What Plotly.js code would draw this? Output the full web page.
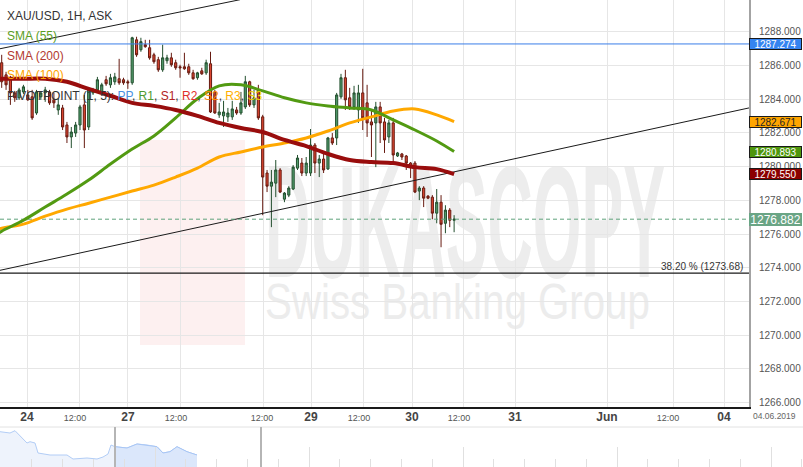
<!DOCTYPE html>
<html><head><meta charset="utf-8">
<script src="https://cdn.plot.ly/plotly-3.0.1.min.js"></script>
<style>html,body{margin:0;padding:0;background:#fff}#chart{width:803px;height:467px}</style>
</head><body><div id="chart"></div>
<script>
// ---------- DATA ----------
const priceOpen = [1286.16,1285.44,1285.27,1284.37,1284.08,1284.43,1284.25,1284.14,1283.18,1284.14,
1284.37,1284.43,1283.96,1283.36,1283.48,1282.47,1281.76,1281.99,1282.47,1283.66,
1282.35,1284.37,1284.55,1284.43,1285.15,1284.85,1285.03,1285.21,1285.15,1285.03,
1284.97,1287.52,1286.93,1287.23,1287.05,1286.63,1286.34,1285.74,1286.28,1286.45,
1286.16,1285.92,1285.92,1285.92,1285.56,1285.27,1285.68,1285.56,1286.10,1284.43,
1283.07,1283.01,1282.95,1282.95,1283.36,1283.18,1283.54,1285.03,1283.66,1284.55,
1282.95,1279.62,1278.84,1279.02,1279.80,1278.07,1278.31,1278.67,1279.91,1280.21,
1279.62,1279.62,1281.28,1280.21,1280.45,1279.86,1281.70,1281.70,1284.14,1285.27,
1284.08,1283.54,1283.36,1284.37,1283.78,1282.65,1282.59,1283.54,1282.65,1281.76,
1282.59,1280.63,1280.75,1280.63,1280.21,1280.21,1278.55,1278.73,1278.25,1278.19,
1277.24,1277.89,1276.64,1277.42,1276.82];
const priceHigh = [1286.63,1285.62,1285.38,1284.49,1284.67,1284.85,1284.55,1284.55,1284.55,1284.43,
1284.73,1284.55,1284.37,1284.02,1283.66,1282.65,1282.35,1282.65,1283.66,1284.25,
1284.67,1284.67,1285.32,1284.97,1285.38,1285.50,1285.56,1286.39,1285.27,1285.15,
1287.70,1287.70,1287.64,1287.52,1287.52,1286.75,1286.51,1287.23,1286.63,1286.75,
1286.34,1286.04,1286.75,1286.10,1285.74,1285.62,1285.86,1286.34,1286.81,1284.55,
1283.78,1283.90,1283.48,1283.90,1283.54,1284.43,1285.38,1285.09,1284.55,1284.85,
1283.07,1279.80,1279.80,1280.39,1279.91,1278.49,1278.84,1280.09,1280.69,1280.51,
1280.57,1282.23,1281.40,1280.69,1280.81,1281.76,1281.99,1284.37,1285.50,1285.74,
1284.67,1284.79,1284.85,1285.80,1284.85,1283.36,1283.84,1283.84,1282.89,1282.77,
1282.89,1280.87,1280.81,1280.69,1280.27,1280.33,1278.84,1278.84,1278.31,1278.31,
1278.67,1278.31,1277.71,1277.54,1277.12];
const priceLow = [1284.67,1284.55,1283.66,1283.84,1283.96,1284.31,1283.90,1282.77,1283.07,1283.96,
1283.84,1283.66,1283.48,1283.07,1282.17,1281.40,1281.10,1281.76,1282.17,1281.10,
1282.17,1284.25,1284.43,1284.25,1284.79,1284.67,1284.85,1284.85,1284.85,1284.61,
1284.85,1286.51,1286.81,1287.05,1286.34,1286.10,1285.62,1285.62,1286.10,1285.92,
1285.74,1285.27,1285.74,1285.44,1285.15,1285.15,1285.44,1285.44,1283.18,1283.13,
1282.89,1282.35,1282.65,1282.77,1283.07,1283.07,1283.42,1283.54,1283.48,1282.77,
1277.12,1278.49,1276.41,1278.19,1278.43,1277.89,1278.19,1278.61,1279.80,1279.44,
1279.44,1279.44,1279.62,1279.38,1279.62,1279.80,1281.28,1281.28,1284.02,1283.36,
1283.36,1283.36,1282.59,1282.17,1281.76,1280.57,1279.97,1281.40,1280.81,1281.40,
1280.21,1280.57,1280.39,1279.80,1279.32,1278.43,1278.01,1277.60,1278.07,1276.88,
1276.64,1275.22,1276.05,1276.41,1276.11];
const priceClose = [1285.03,1284.85,1284.37,1284.08,1284.55,1284.73,1283.96,1282.89,1284.43,1284.37,
1284.55,1283.78,1283.78,1283.66,1282.35,1281.76,1282.05,1282.47,1283.54,1282.17,
1284.55,1284.55,1285.15,1284.85,1284.91,1285.27,1285.32,1284.97,1284.97,1284.97,
1287.64,1286.63,1287.41,1287.11,1286.45,1286.22,1285.74,1286.45,1286.45,1286.04,
1285.86,1285.86,1285.80,1285.56,1285.21,1285.56,1285.50,1286.16,1283.24,1283.18,
1283.24,1283.24,1283.18,1283.42,1283.18,1283.78,1285.03,1283.66,1284.08,1282.89,
1279.38,1278.84,1279.08,1279.80,1278.49,1278.43,1278.73,1279.97,1280.51,1279.62,
1280.21,1281.28,1280.21,1280.45,1279.80,1281.70,1281.40,1284.25,1285.27,1283.96,
1283.54,1284.37,1284.37,1282.89,1282.59,1282.47,1283.54,1282.59,1281.58,1282.59,
1280.69,1280.81,1280.57,1280.21,1279.97,1278.49,1278.73,1278.13,1278.13,1277.24,
1277.89,1276.58,1277.42,1276.82,1276.88];
const candleIndex = priceOpen.map((_, i) => i);

// moving averages read at sampled candle positions
const maIndex = [-1,0,5,10,15,20,25,30,35,40,45,50,55,60,65,70,75,80,85,90,95,100,104];
const sma55  = [1275.99,1276.17,1276.82,1277.60,1278.37,1279.20,1280.15,1281.04,1281.82,1282.89,1284.02,1284.79,1284.85,1284.49,1284.08,1283.78,1283.60,1283.48,1283.36,1282.77,1282.17,1281.52,1280.89];
const sma100 = [1276.29,1276.35,1276.59,1277.06,1277.48,1277.83,1278.19,1278.55,1278.90,1279.38,1279.91,1280.57,1280.87,1281.16,1281.40,1281.70,1282.11,1282.59,1282.95,1283.30,1283.42,1283.07,1282.67];
const sma200 = [1285.21,1285.21,1285.21,1285.21,1285.03,1284.61,1284.20,1283.78,1283.60,1283.36,1283.01,1282.59,1282.29,1282.05,1281.58,1281.22,1280.75,1280.39,1280.27,1280.21,1279.97,1279.85,1279.55];

// drawn trend lines (endpoints) and levels
const trendUpperX = [-0.39, 54.8];
const trendUpperY = [1286.99, 1289.90];
const trendLowerX = [-0.39, 171.79];
const trendLowerY = [1273.85, 1283.48];
const blueLevel = 1287.274;
const fibLevel = 1273.68;
const lastPrice = 1276.882;
const sma100Last = 1282.671, sma55Last = 1280.893, sma200Last = 1279.550;

// axis labels
const xLabelPos  = [5.82,16.85,29.03,40.07,59.84,71.11,82.14,94.32,105.13,118.0,139.15,153.17,166.05];
const xLabelText = ['24','12:00','27','12:00','12:00','29','12:00','30','12:00','31','Jun','12:00','04'];
const xGridPos   = [5.82,17.77,29.03,40.99,60.07,71.11,83.06,94.32,106.05,118.0,139.15,154.32,166.05];
const yTicks = [1266,1268,1270,1272,1274,1276,1278,1280,1282,1284,1286,1288];

// navigator mini series
const navX   = [0,10,15,20,27,30,35,38,50,67,73,87,97,103,108,111,115,127,137,147,157,163,170,177,187,197];
const navVal = [35.3,34,36.3,31,24,25.3,24,14,12,12,8,9,8,10,13,22,20.3,19,23,22,20.3,14,15.3,20.3,15.3,12];
const navSelStart = 16;

// ---------- CHART ----------
const FONT = 'Liberation Sans, Arial, sans-serif';
const W = 803, H = 467;
const px = v => v / W;
const py = v => 1 - v / H;
const isDate = t => t !== '12:00';
const tickText = xLabelText.map(t => isDate(t)
  ? '<span style="font-size:12px;fill:#444"><b>' + t + '</b></span>' : t);

const xr = [-0.39, 171.79];
const traces = [
  {type:'candlestick', x:candleIndex, open:priceOpen, high:priceHigh, low:priceLow, close:priceClose,
   increasing:{line:{color:'#234f2e', width:1}, fillcolor:'#519c6c'},
   decreasing:{line:{color:'#661a10', width:1}, fillcolor:'#dc4631'},
   hoverinfo:'skip', xaxis:'x', yaxis:'y'},
  {type:'scatter', mode:'lines', x:trendUpperX, y:trendUpperY, line:{color:'#1a1a1a', width:1}, hoverinfo:'skip'},
  {type:'scatter', mode:'lines', x:trendLowerX, y:trendLowerY, line:{color:'#1a1a1a', width:1}, hoverinfo:'skip'},
  {type:'scatter', mode:'lines', x:xr, y:[blueLevel, blueLevel], line:{color:'#3a7ee8', width:1}, hoverinfo:'skip'},
  {type:'scatter', mode:'lines', x:xr, y:[fibLevel, fibLevel], line:{color:'#1a1a1a', width:1.2}, hoverinfo:'skip'},
  {type:'scatter', mode:'lines', x:xr, y:[lastPrice, lastPrice], line:{color:'#5fa37b', width:1, dash:'4px,3px'}, hoverinfo:'skip'},
  {type:'scatter', mode:'lines', x:maIndex, y:sma100, line:{color:'#ffa800', width:3, shape:'spline'}, hoverinfo:'skip'},
  {type:'scatter', mode:'lines', x:maIndex, y:sma55, line:{color:'#529a12', width:3, shape:'spline'}, hoverinfo:'skip'},
  {type:'scatter', mode:'lines', x:maIndex, y:sma200, line:{color:'#990d0d', width:4, shape:'spline'}, hoverinfo:'skip'},
  {type:'scatter', mode:'lines', x:navX, y:navVal, xaxis:'x2', yaxis:'y2', fill:'tozeroy',
   fillcolor:'#eef3fc', line:{color:'#b2cdf6', width:1}, hoverinfo:'skip'},
  {type:'scatter', mode:'lines', x:navX.slice(navSelStart), y:navVal.slice(navSelStart), xaxis:'x2', yaxis:'y2', fill:'tozeroy',
   fillcolor:'#dbe7fb', line:{color:'#a8c6f5', width:1}, hoverinfo:'skip'}
];

const ann = [];
const txt = (x, y, text, size, color, extra) => ann.push(Object.assign({
  xref:'paper', yref:'paper', x:px(x), y:py(y), text:text, showarrow:false,
  xanchor:'left', yanchor:'middle', font:{family:FONT, size:size, color:color}}, extra || {}));
txt(5, 16, 'XAU/USD, 1H, ASK', 12, '#333');
txt(5, 36, 'SMA (55)', 12, '#5a9e1e');
txt(5, 56, 'SMA (200)', 12, '#b23a30');
txt(5, 75, 'SMA (100)', 12, '#ffa500');
txt(5, 96, 'PIVOTPOINT (1, 5): <span style="color:#4a90e2">PP</span>, <span style="color:#4e9a2e">R1</span>, <span style="color:#b22222">S1</span>, <span style="color:#e0302a">R2</span>, <span style="color:#ff8c00">S2</span>, <span style="color:#ffb000">R3</span>, <span style="color:#e8d000">S3</span>', 12, '#333');
txt(774, 416, '04.06.2019', 8.5, '#666', {xanchor:'center'});
ann.push({xref:'paper', yref:'y', x:px(745), y:fibLevel, yshift:7, text:'38.20 % (1273.68)', showarrow:false,
  xanchor:'right', yanchor:'middle', font:{family:FONT, size:10, color:'#333'}});

const badge = (val, bg, fg, border, size, h) => ann.push({
  xref:'paper', yref:'y', x:px(749), y:val, text:val.toFixed(3), showarrow:false,
  xanchor:'left', yanchor:'middle', width:51, height:h, align:'center', bgcolor:bg,
  bordercolor:border, borderwidth:1, borderpad:0, font:{family:FONT, size:size, color:fg}});
badge(blueLevel, '#3584f0', '#fff', '#1a1a1a', 10, 10);
badge(sma100Last, '#ffa500', '#222', '#1a1a1a', 10, 10);
badge(sma55Last, '#4e960c', '#fff', '#1a1a1a', 10, 10);
badge(sma200Last, '#8b0000', '#fff', '#1a1a1a', 10, 10);
badge(lastPrice, '#6aa585', '#fff', '#6aa585', 12, 11);

const WM_FONT = 'Liberation Sans, Arial, sans-serif';
const shapes = [
  // watermark
  {type:'rect', xref:'paper', yref:'paper', x0:px(140), x1:px(245), y0:py(345), y1:py(140), fillcolor:'#fdf0f0', line:{width:0}, layer:'below'},
  {type:'rect', xref:'paper', yref:'paper', x0:px(265), x1:px(665), y0:py(264), y1:py(150), fillcolor:'rgba(0,0,0,0)', line:{width:0}, layer:'below',
   label:{text:'DUKASCOPY', font:{family:WM_FONT, size:160, color:'#ededed', weight:'bold'}, textposition:'middle center'}},
  {type:'rect', xref:'paper', yref:'paper', x0:px(265), x1:px(650), y0:py(322), y1:py(272), fillcolor:'rgba(0,0,0,0)', line:{width:0}, layer:'below',
   label:{text:'Swiss Banking Group', font:{family:WM_FONT, size:50, color:'#ececec'}, textposition:'middle center'}},
  // navigator frame
  {type:'line', xref:'paper', yref:'paper', x0:0, x1:1, y0:py(427), y1:py(427), line:{color:'#e2e2e2', width:1}},
  {type:'line', xref:'paper', yref:'paper', x0:px(115), x1:px(115), y0:py(427), y1:0, line:{color:'#b5b5b5', width:2}},
  {type:'line', xref:'paper', yref:'paper', x0:px(261), x1:px(261), y0:py(427), y1:0, line:{color:'#b5b5b5', width:2}}
];
// target boxes for the condensed watermark lettering (pixels)
const wmBoxes = [[265, 665], [265, 650]];

const layout = {
  width:W, height:H, margin:{l:0, r:0, t:0, b:0},
  paper_bgcolor:'#fff', plot_bgcolor:'#fff', showlegend:false,
  font:{family:FONT},
  xaxis:{domain:[0, 749/W], range:xr, showgrid:false, zeroline:false,
    tickmode:'array', tickvals:xLabelPos, ticktext:tickText, ticks:'', ticklabelstandoff:2,
    tickfont:{family:FONT, size:9, color:'#555'},
    showline:true, linecolor:'#1a1a1a', linewidth:1.5,
    minor:{tickmode:'array', tickvals:xGridPos, showgrid:true, gridcolor:'#e6e6e6', gridwidth:1, ticks:''},
    rangeslider:{visible:false}, fixedrange:true},
  yaxis:{domain:[60/H, 1], range:[1265.745, 1289.88], side:'right', anchor:'x',
    tickmode:'array', tickvals:yTicks, tickformat:'.3f', ticks:'', ticklabelstandoff:6,
    tickfont:{family:FONT, size:10, color:'#555'},
    showgrid:true, gridcolor:'#e6e6e6', gridwidth:1, zeroline:false,
    showline:true, linecolor:'#a3a3a3', linewidth:2, fixedrange:true},
  xaxis2:{domain:[0,1], anchor:'y2', range:[0, W], showgrid:false, zeroline:false, showline:false,
    tickmode:'array', tickvals:[155,309,463,617,771], ticks:'inside', ticklen:20, tickcolor:'#e0e0e0', tickwidth:1,
    showticklabels:false,
    minor:{tick0:1, dtick:30.8, ticks:'inside', ticklen:8, tickcolor:'#e0e0e0', tickwidth:1, showgrid:false},
    fixedrange:true},
  yaxis2:{domain:[0, 40/H], anchor:'x2', range:[0, 40], visible:false, fixedrange:true},
  annotations:ann, shapes:shapes
};

Plotly.newPlot('chart', traces, layout, {displayModeBar:false, staticPlot:true}).then(gd => {
  // squeeze the watermark lettering horizontally into its box (condensed face)
  const labels = gd.querySelectorAll('.shapelayer text');
  labels.forEach((t, i) => {
    if (i >= wmBoxes.length) return;
    const bb = t.getBBox();
    const target = wmBoxes[i][1] - wmBoxes[i][0];
    const s = target / bb.width;
    const cx = bb.x + bb.width / 2;
    t.setAttribute('transform', 'translate(' + cx + ',0) scale(' + s + ',1) translate(' + (-cx) + ',0)');
  });
});
</script>
</body></html>
